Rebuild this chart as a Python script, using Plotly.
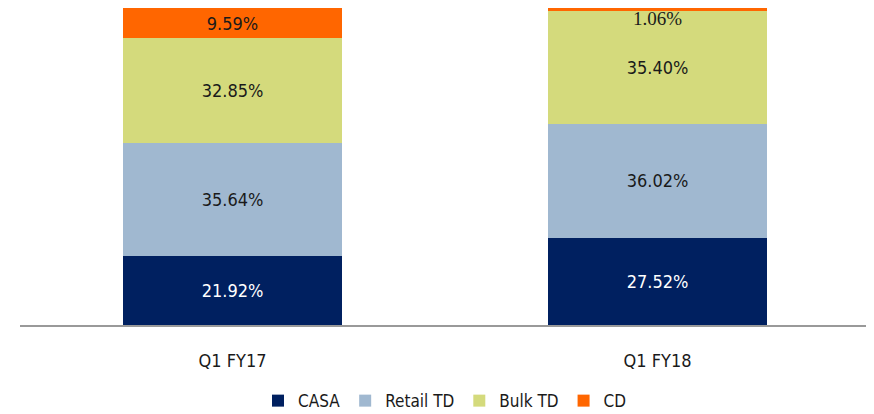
import plotly.graph_objects as go

categories = ["Q1 FY17", "Q1 FY18"]
casa = [21.92, 27.52]
retail_td = [35.64, 36.02]
bulk_td = [32.85, 35.40]
cd = [9.59, 1.06]

series = [
    ("CASA", casa, "#002060", "#FFFFFF"),
    ("Retail TD", retail_td, "#A0B8D0", "#1A1A1A"),
    ("Bulk TD", bulk_td, "#D4DA7C", "#1A1A1A"),
    ("CD", cd, "#FF6600", "#1A1A1A"),
]

font_family = "DejaVu Sans Condensed, Liberation Sans Narrow, Arial Narrow, sans-serif"

fig = go.Figure()
for name, vals, color, tcolor in series:
    # the CD slice of Q1 FY18 is too thin for an inside label; it gets an annotation
    positions = ["inside" if not (name == "CD" and v < 3) else "none" for v in vals]
    fig.add_trace(go.Bar(
        x=categories, y=vals, name=name,
        marker=dict(color=color, line=dict(width=0)),
        text=[f"{v:.2f}%" for v in vals],
        textposition=positions,
        insidetextanchor="middle",
        constraintext="none",
        textangle=0,
        cliponaxis=False,
        textfont=dict(color=tcolor, size=18, family=font_family),
        width=0.515,
    ))

# label for the thin CD slice, placed at the top of its stack
for i, cat in enumerate(categories):
    if cd[i] < 3:
        top = casa[i] + retail_td[i] + bulk_td[i] + cd[i]
        fig.add_annotation(
            x=cat, y=top, xref="x", yref="y", yanchor="top", yshift=2,
            text=f"{cd[i]:.2f}%", showarrow=False,
            font=dict(size=19, family="Liberation Serif, DejaVu Serif, serif", color="#1A1A1A"),
        )

fig.update_layout(
    barmode="stack",
    width=866, height=406,
    margin=dict(l=12, r=4, t=0, b=89, autoexpand=False),
    plot_bgcolor="white", paper_bgcolor="white",
    showlegend=True,
    legend=dict(orientation="h", x=0.5, xanchor="center", y=-0.24, yanchor="middle",
                font=dict(size=17, family=font_family, color="#1A1A1A"),
                traceorder="normal", itemwidth=30, tracegroupgap=0),
    font=dict(family=font_family),
)
fig.update_xaxes(range=[-0.5, 1.5], showline=True, linecolor="#999999", linewidth=2,
                 showgrid=False, ticks="", ticklabelstandoff=18, automargin=False,
                 tickfont=dict(size=18, family=font_family, color="#1A1A1A"))
fig.update_yaxes(range=[0, 100], visible=False, automargin=False)

fig.write_html("out.html")
